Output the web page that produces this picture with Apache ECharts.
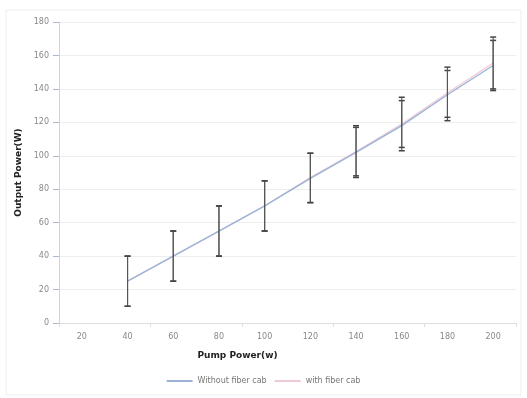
<!DOCTYPE html>
<html>
<head>
<meta charset="utf-8">
<script src="https://cdn.jsdelivr.net/npm/echarts@6/dist/echarts.min.js"></script>
<style>
  html, body { margin: 0; padding: 0; background: #fff; }
  #chart { width: 527px; height: 398px; }
</style>
</head>
<body>
<div id="chart"></div>
<script>
// pump power categories (x axis)
const pumpPower = ['20', '40', '60', '80', '100', '120', '140', '160', '180', '200'];

// output power
const withoutCab = [null, 25, 40, 55, 70, 86.5, 102, 118, 136.5, 154];
const withCab = [null, 25, 40, 55, 70, 87, 102.5, 119, 137.5, 155.5];

// error bars [low, high]
const withoutCabErr = [null, [10, 40], [25, 55], [40, 70], [55, 85], [72, 101.5], [87, 117], [103, 133], [121, 151], [139, 169]];
const withCabErr = [null, [10, 40], [25, 55], [40, 70], [55, 85], [72, 101.5], [88, 118], [105, 135], [123, 153], [140, 171]];

const toErrData = (arr) => arr.map((e, i) => e ? [i, e[0], e[1]] : null).filter(Boolean);

// draws a vertical whisker with caps
const renderErr = (params, api) => {
    const x = api.value(0);
    const lo = api.coord([x, api.value(1)]);
    const hi = api.coord([x, api.value(2)]);
    const w = 3;
    const cap = { stroke: '#444', lineWidth: 1.5 };
    return {
        type: 'group',
        children: [
            { type: 'line', shape: { x1: hi[0], y1: hi[1], x2: lo[0], y2: lo[1] }, style: { stroke: '#555', lineWidth: 1.1 } },
            { type: 'line', shape: { x1: hi[0] - w, y1: hi[1], x2: hi[0] + w, y2: hi[1] }, style: cap },
            { type: 'line', shape: { x1: lo[0] - w, y1: lo[1], x2: lo[0] + w, y2: lo[1] }, style: cap }
        ]
    };
};

const chart = echarts.init(document.getElementById('chart'));
chart.setOption({
    animation: false,
    backgroundColor: '#fff',
    textStyle: { fontFamily: 'DejaVu Sans, sans-serif' },
    graphic: [{
        type: 'rect',
        shape: { x: 6, y: 10, width: 515, height: 385 },
        style: { fill: 'none', stroke: '#eeeeee', lineWidth: 1 },
        silent: true
    }],
    grid: { left: 59, right: 11, top: 22, bottom: 75 },
    legend: {
        bottom: 8,
        left: 'center',
        itemWidth: 26,
        itemHeight: 2,
        itemGap: 8,
        textStyle: { color: '#777', fontSize: 8 },
        data: [
            { name: 'Without fiber cab', icon: 'rect' },
            { name: 'with fiber cab', icon: 'rect' }
        ]
    },
    xAxis: {
        type: 'category',
        data: pumpPower,
        boundaryGap: true,
        name: 'Pump Power(w)',
        nameLocation: 'middle',
        nameGap: 28,
        nameTextStyle: { fontWeight: 'bold', fontSize: 9, color: '#222', padding: [0, 100, 0, 0] },
        axisLine: { lineStyle: { color: '#dddddd' } },
        axisTick: { show: true, interval: 1, lineStyle: { color: '#e0e0e0' }, length: 4 },
        axisLabel: { color: '#888', fontSize: 8, margin: 10 }
    },
    yAxis: {
        type: 'value',
        min: 0,
        max: 180,
        interval: 20,
        name: 'Output Power(W)',
        nameLocation: 'middle',
        nameGap: 32,
        nameRotate: 90,
        nameTextStyle: { fontWeight: 'bold', fontSize: 9, color: '#222' },
        axisLine: { show: true, lineStyle: { color: '#c8d4e6' } },
        axisTick: { show: true, length: 6, lineStyle: { color: '#aab8cc' } },
        axisLabel: { color: '#888', fontSize: 8, margin: 10 },
        splitLine: { lineStyle: { color: '#eeeeee' } }
    },
    series: [
        {
            name: 'Without fiber cab',
            type: 'line',
            data: withoutCab,
            showSymbol: false,
            lineStyle: { color: '#9cb3d8', width: 1.4 },
            itemStyle: { color: '#9cb3d8' },
            z: 3
        },
        {
            name: 'with fiber cab',
            type: 'line',
            data: withCab,
            showSymbol: false,
            lineStyle: { color: '#efc8d3', width: 1.2 },
            itemStyle: { color: '#efc8d3' },
            z: 2
        },
        {
            type: 'custom',
            renderItem: renderErr,
            data: toErrData(withoutCabErr),
            encode: { x: 0, y: [1, 2] },
            z: 4
        },
        {
            type: 'custom',
            renderItem: renderErr,
            data: toErrData(withCabErr),
            encode: { x: 0, y: [1, 2] },
            z: 4
        }
    ]
});
</script>
</body>
</html>
